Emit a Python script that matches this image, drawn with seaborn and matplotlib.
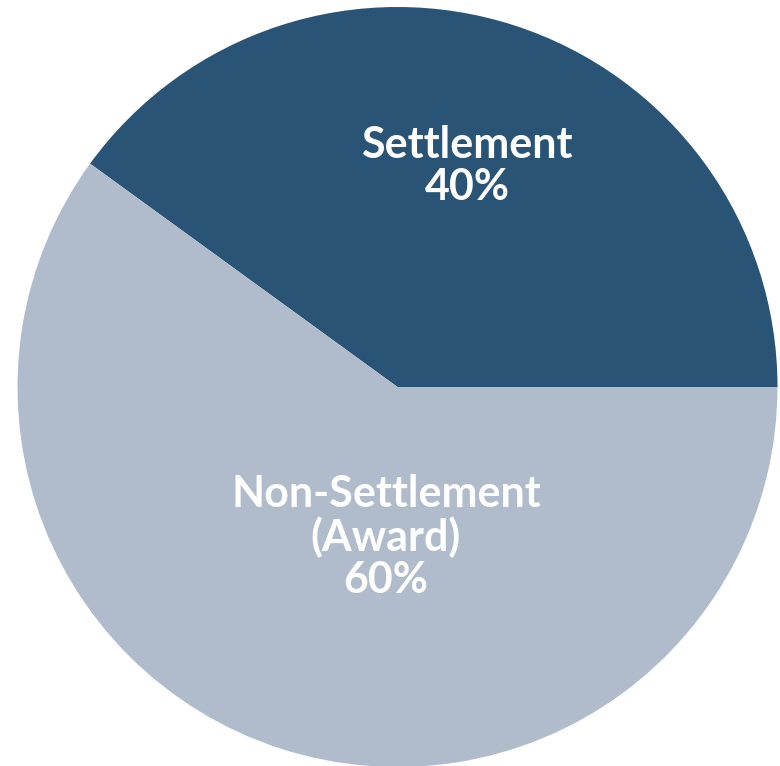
import matplotlib
matplotlib.use("Agg")
import matplotlib.pyplot as plt
import seaborn as sns

categories = ["Settlement", "Non-Settlement\n(Award)"]
values = [40, 60]
colors = ["#2a5475", "#b0bccb"]

sns.set_theme(style="white")
plt.rcParams['font.family'] = ['Lato', 'DejaVu Sans']

W, H = 780, 766
fig = plt.figure(figsize=(W / 100, H / 100), dpi=100)
ax = fig.add_axes([0, 0, 1, 1])

cx, cy, r = 397.5, H - 387, 380
ax.pie(values, colors=colors, startangle=0, counterclock=True,
       center=(cx, cy), radius=r, frame=True,
       wedgeprops=dict(linewidth=0))
ax.set_xlim(0, W)
ax.set_ylim(0, H)
ax.set_aspect("equal")
ax.axis("off")

label_pos = [(467, H - 166), (386, H - 537)]
for cat, val, (x, y) in zip(categories, values, label_pos):
    ax.text(x, y, f"{cat}\n{val}%", ha="center", va="center",
            color="white", fontsize=31, fontweight="bold", linespacing=1.05)

fig.savefig("out.png", dpi=100)
